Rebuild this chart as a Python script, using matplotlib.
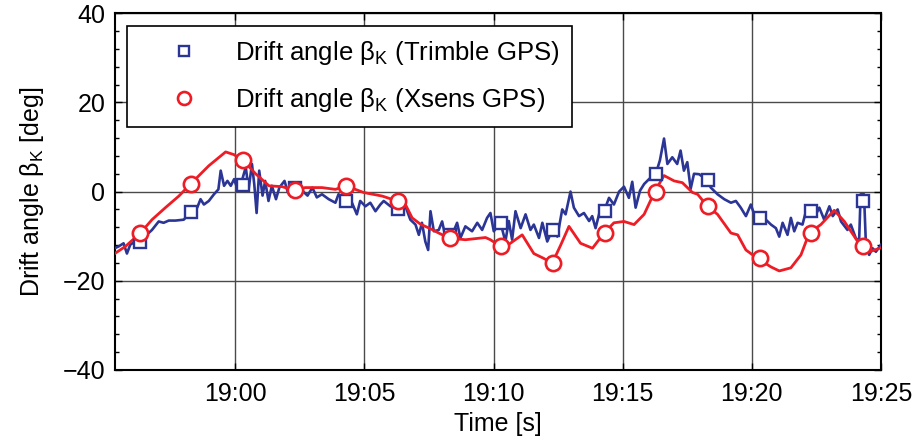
import matplotlib
matplotlib.use('Agg')
import matplotlib.pyplot as plt
from matplotlib.ticker import MultipleLocator, FuncFormatter

plt.rcParams['font.family'] = ['Liberation Sans', 'DejaVu Sans']
plt.rcParams['mathtext.fontset'] = 'custom'
plt.rcParams['mathtext.rm'] = 'Liberation Sans'
plt.rcParams['mathtext.it'] = 'Liberation Sans:italic'

# time in minutes after 19:00, drift angle in deg
trimble_t = [-4.66, -4.51, -4.32, -4.19, -4.06, -3.86, -3.6, -3.47, -3.35, -3.22,
             -2.96, -2.77, -2.57, -2.31, -1.99, -1.7, -1.47, -1.34, -1.21, -1.02,
             -0.82, -0.65, -0.56, -0.43, -0.3, -0.17, -0.04, 0.09, 0.22, 0.41,
             0.52, 0.65, 0.74, 0.83, 0.93, 1.06, 1.16, 1.29, 1.42, 1.58,
             1.71, 1.91, 2.04, 2.27, 2.6, 2.8, 2.99, 3.16, 3.36, 3.62,
             3.88, 4.0, 4.26, 4.52, 4.71, 4.84, 5.04, 5.23, 5.43, 5.62,
             5.75, 6.01, 6.31, 6.59, 6.78, 6.98, 7.11, 7.23, 7.36, 7.47,
             7.56, 7.69, 7.88, 8.01, 8.14, 8.4, 8.59, 8.72, 8.91, 9.17,
             9.37, 9.56, 9.75, 9.88, 10.01, 10.27, 10.46, 10.59, 10.72, 10.85,
             11.05, 11.24, 11.43, 11.56, 11.76, 11.89, 12.08, 12.27, 12.47, 12.66,
             12.79, 12.98, 13.11, 13.31, 13.5, 13.7, 13.82, 13.95, 14.15, 14.28,
             14.47, 14.66, 14.86, 15.05, 15.24, 15.37, 15.5, 15.67, 15.83, 16.02,
             16.28, 16.44, 16.6, 16.73, 16.92, 17.11, 17.24, 17.37, 17.5, 17.63,
             17.76, 17.96, 18.26, 18.41, 18.67, 18.93, 19.19, 19.38, 19.57, 19.77,
             19.96, 20.09, 20.28, 20.54, 20.74, 20.93, 21.06, 21.19, 21.38, 21.51,
             21.64, 21.77, 21.96, 22.13, 22.29, 22.48, 22.61, 22.8, 23.0, 23.13,
             23.32, 23.45, 23.7, 23.83, 24.02, 24.15, 24.21, 24.34, 24.41, 24.54,
             24.67, 24.8, 25.0]
trimble_v = [-12.7, -12.3, -11.6, -13.9, -11.9, -11.2, -11.6, -8.9, -9.3, -8.6,
             -6.7, -7.0, -6.5, -6.5, -6.3, -4.5, -3.6, -1.7, -2.9, -2.1,
             -0.6, 0.5, 4.7, 1.3, 2.4, 1.3, 2.8, 0.5, 1.6, 5.5,
             0.5, 6.2, 1.6, -4.8, 4.7, -0.9, 2.4, -2.1, 1.3, -1.7,
             0.9, 2.4, -0.2, 0.9, 0.2, -0.9, 0.9, -1.3, -0.6, -1.7,
             -2.5, -0.6, -2.1, -2.5, -5.1, -2.1, -3.3, -2.5, -4.4, -2.9,
             -2.1, -3.3, -4.0, -3.3, -6.3, -7.4, -9.7, -7.0, -11.2, -13.1,
             -4.4, -8.9, -8.6, -6.7, -10.1, -9.7, -7.0, -10.4, -7.8, -8.9,
             -7.0, -8.6, -5.9, -4.8, -8.9, -7.0, -11.2, -6.6, -10.8, -4.4,
             -8.2, -5.1, -8.6, -7.4, -10.4, -7.0, -11.2, -8.6, -10.1, -4.0,
             -5.1, 0.0, -3.6, -5.5, -4.8, -6.6, -5.5, -8.2, -3.6, -4.4,
             -1.4, -2.9, 0.0, 1.1, -1.4, 2.2, -3.6, 0.2, 1.7, 2.8,
             4.0, 7.0, 11.9, 6.2, 7.7, 6.2, 9.2, 4.7, 6.6, 0.6,
             4.0, 3.9, 2.6, 0.9, -0.6, -1.7, -2.5, -2.1, -3.6, -5.5,
             -2.9, -5.1, -5.9, -6.3, -7.4, -8.2, -10.1, -7.0, -9.7, -5.9,
             -8.9, -7.0, -7.4, -3.6, -4.4, -5.1, -3.6, -6.3, -3.3, -5.5,
             -4.0, -6.7, -8.6, -7.4, -10.4, -11.2, -0.6, -0.6, -11.2, -14.2,
             -12.7, -13.5, -11.9]

xsens_t = [-4.66, -4.25, -3.67, -3.22, -2.7, -2.18, -1.71, -1.02, -0.37, -0.05,
           0.31, 0.79, 1.31, 1.82, 2.27, 2.71, 3.36, 3.88, 4.29, 4.97,
           5.69, 6.27, 6.59, 6.85, 7.17, 7.62, 7.88, 8.27, 8.91, 9.69,
           9.88, 10.27, 10.6, 11.11, 11.56, 11.95, 12.27, 12.6, 12.92, 13.37,
           13.83, 14.28, 14.66, 15.05, 15.44, 15.83, 16.24, 16.6, 16.99, 17.31,
           17.7, 17.9, 18.28, 18.67, 19.19, 19.45, 19.77, 20.22, 20.74, 21.06,
           21.51, 21.9, 22.22, 22.67, 23.19, 23.58, 23.97, 24.22, 24.55, 25.0]
xsens_v = [-13.9, -12.3, -9.3, -6.3, -3.6, -1.0, 1.8, 5.8, 8.9, 8.3,
           7.0, 4.0, 1.3, 1.1, 0.3, 0.9, 0.9, 0.5, 1.3, -0.2,
           -1.0, -2.1, -2.9, -5.9, -7.3, -8.5, -9.3, -10.4, -10.8, -10.3,
           -10.8, -12.3, -11.8, -9.7, -13.9, -15.0, -16.1, -12.0, -7.8, -11.6,
           -12.7, -9.3, -7.0, -6.7, -7.4, -5.1, 0.0, 3.6, 2.4, 2.0,
           -0.2, -0.6, -3.3, -5.1, -9.3, -9.7, -13.1, -15.0, -16.9, -17.8,
           -17.1, -14.2, -9.3, -7.4, -4.2, -6.7, -10.1, -12.3, -13.5, -12.6]

# marker positions (every 2 min)
marker_t = [-3.7, -1.7, 0.3, 2.3, 4.3, 6.3, 8.3, 10.3, 12.3, 14.3, 16.3, 18.3, 20.3, 22.3, 24.3]
trimble_mk = [-11.2, -4.5, 1.5, 0.9, -2.1, -4.0, -9.7, -7.0, -8.6, -4.4, 4.0, 2.6, -5.9, -4.4, -2.1]
xsens_mk = [-9.3, 1.8, 7.0, 0.3, 1.3, -2.1, -10.4, -12.3, -16.1, -9.3, 0.0, -3.3, -15.0, -9.3, -12.3]

blue = '#2b3595'
red = '#ee1c25'

fig = plt.figure(figsize=(9.13, 4.43), dpi=100)
ax = fig.add_axes([0.126, 0.165, 0.839, 0.805])

ax.plot(trimble_t, trimble_v, color=blue, lw=1.9, zorder=3)
ax.plot(xsens_t, xsens_v, color=red, lw=2.0, zorder=4)
ax.plot(marker_t, trimble_mk, ls='none', marker='s', ms=8.5, mfc='white', mec=blue, mew=1.7,
        zorder=5, label=r'Drift angle $\mathrm{\beta}_{\mathrm{K}}$ (Trimble GPS)')
ax.plot(marker_t, xsens_mk, ls='none', marker='o', ms=11, mfc='white', mec=red, mew=1.9,
        zorder=6, label=r'Drift angle $\mathrm{\beta}_{\mathrm{K}}$ (Xsens GPS)')

ax.set_xlim(-4.65, 25)
ax.set_ylim(-40, 40)
ax.xaxis.set_major_locator(MultipleLocator(5))
ax.xaxis.set_major_formatter(FuncFormatter(lambda x, p: '19:%02d' % round(x)))
ax.yaxis.set_major_locator(MultipleLocator(20))
ax.yaxis.set_minor_locator(MultipleLocator(4))
ax.yaxis.set_major_formatter(FuncFormatter(lambda y, p: ('%d' % y).replace('-', '\u2212')))
ax.tick_params(which='both', direction='in', top=True, right=True, labelsize=18, length=5, width=1)
ax.tick_params(axis='x', pad=9)
ax.tick_params(axis='y', pad=7)
ax.tick_params(which='minor', length=3)
ax.grid(True, which='major', color='#4a4a4a', lw=1.0)
for s in ax.spines.values():
    s.set_linewidth(1.5)

ax.set_xlabel('Time [s]', fontsize=18, labelpad=4)
ax.set_ylabel(r'Drift angle $\mathrm{\beta}_{\mathrm{K}}$ [deg]', fontsize=18, labelpad=12)

leg = ax.legend(loc='upper left', bbox_to_anchor=(0.016, 0.965), borderaxespad=0,
                fontsize=18.5, markerscale=0.85, handlelength=3.4, handletextpad=0.3,
                fancybox=False, framealpha=1, edgecolor='black', borderpad=0.5,
                labelspacing=0.75)
leg.get_frame().set_linewidth(1.2)

plt.savefig('out.png', dpi=100)
